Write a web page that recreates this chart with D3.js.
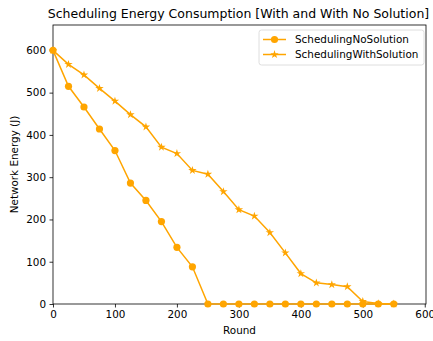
<!DOCTYPE html>
<html>
<head>
<meta charset="utf-8">
<script src="https://cdn.jsdelivr.net/npm/d3@7"></script>
<style>
  html, body { margin: 0; padding: 0; background: #fff; }
  svg { display: block; font-family: "DejaVu Sans", sans-serif; }
</style>
</head>
<body>
<svg id="chart" width="433" height="341"></svg>
<script>
// Rounds sampled every 25 steps
const rounds = [0, 25, 50, 75, 100, 125, 150, 175, 200, 225, 250, 275, 300, 325, 350, 375, 400, 425, 450, 475, 500, 525, 550];
// Remaining network energy (J) per round
const noSolution   = [600, 515, 466, 414, 363, 286, 245, 195, 134, 88, 0, 0, 0, 0, 0, 0, 0, 0, 0, 0, 0, 0, 0];
const withSolution = [600, 567, 542, 510, 480, 448, 419, 371, 356, 316, 307, 266, 223, 208, 169, 121, 72, 50, 46, 41, 6, 1, 0];
const xTicks = [0, 100, 200, 300, 400, 500, 600];
const yTicks = [0, 100, 200, 300, 400, 500, 600];
const seriesNames = ["SchedulingNoSolution", "SchedulingWithSolution"];

const color = "#FFA500";
const fs = 10.4;
const svg = d3.select("#chart");
const m = { left: 53, right: 7, top: 25, bottom: 37 };
const W = 433, H = 341;

const x = d3.scaleLinear().domain([0, 602]).range([m.left, W - m.right]);
const y = d3.scaleLinear().domain([0, 660]).range([H - m.bottom, m.top]);

// Axes
const xAxis = svg.append("g")
  .attr("transform", `translate(0,${H - m.bottom})`)
  .call(d3.axisBottom(x).tickValues(xTicks).tickSize(3.5).tickPadding(3.5));
const yAxis = svg.append("g")
  .attr("transform", `translate(${m.left},0)`)
  .call(d3.axisLeft(y).tickValues(yTicks).tickSize(3.5).tickPadding(3.5));
[xAxis, yAxis].forEach(g => {
  g.selectAll("text").attr("font-size", fs).attr("fill", "#000").attr("font-family", "DejaVu Sans, sans-serif");
  g.selectAll("line").attr("stroke", "#000").attr("stroke-width", 0.8);
  g.select(".domain").remove();
});

// Frame
svg.append("rect")
  .attr("x", m.left).attr("y", m.top)
  .attr("width", W - m.right - m.left).attr("height", H - m.bottom - m.top)
  .attr("fill", "none").attr("stroke", "#000").attr("stroke-width", 0.8);

// Lines and markers
const line = d3.line().x(d => x(d[0])).y(d => y(d[1]));
const star = d3.symbol().type(d3.symbolStar).size(22);

function drawSeries(values, marker) {
  const pts = rounds.map((r, i) => [r, values[i]]);
  svg.append("path").datum(pts)
    .attr("d", line).attr("fill", "none")
    .attr("stroke", color).attr("stroke-width", 1.5);
  if (marker === "circle") {
    svg.append("g").selectAll("circle").data(pts).join("circle")
      .attr("cx", d => x(d[0])).attr("cy", d => y(d[1])).attr("r", 3.6)
      .attr("fill", color);
  } else {
    svg.append("g").selectAll("path").data(pts).join("path")
      .attr("d", star)
      .attr("transform", d => `translate(${x(d[0])},${y(d[1])})`)
      .attr("fill", color);
  }
}
drawSeries(noSolution, "circle");
drawSeries(withSolution, "star");

// Title and axis labels
svg.append("text").attr("x", (m.left + W - m.right) / 2 - 1).attr("y", 18)
  .attr("text-anchor", "middle").attr("font-size", 12.5)
  .text("Scheduling Energy Consumption [With and With No Solution]");
svg.append("text").attr("x", (m.left + W - m.right) / 2).attr("y", 334)
  .attr("text-anchor", "middle").attr("font-size", fs).text("Round");
svg.append("text")
  .attr("transform", `translate(18,${(m.top + H - m.bottom) / 2}) rotate(-90)`)
  .attr("text-anchor", "middle").attr("font-size", fs).text("Network Energy (J)");

// Legend
const lg = svg.append("g").attr("transform", "translate(259,30)");
lg.append("rect").attr("x", 0).attr("y", 0).attr("width", 165).attr("height", 35)
  .attr("rx", 2.5).attr("fill", "#fff").attr("fill-opacity", 0.8)
  .attr("stroke", "#d6d6d6").attr("stroke-width", 0.8);
seriesNames.forEach((name, i) => {
  const cy = 9.5 + i * 15;
  lg.append("line").attr("x1", 4).attr("x2", 27).attr("y1", cy).attr("y2", cy)
    .attr("stroke", color).attr("stroke-width", 1.5);
  if (i === 0) {
    lg.append("circle").attr("cx", 15.5).attr("cy", cy).attr("r", 3.6).attr("fill", color);
  } else {
    lg.append("path").attr("d", star).attr("transform", `translate(15.5,${cy})`).attr("fill", color);
  }
  lg.append("text").attr("x", 36).attr("y", cy + 3.8).attr("font-size", fs).text(name);
});
</script>
</body>
</html>
